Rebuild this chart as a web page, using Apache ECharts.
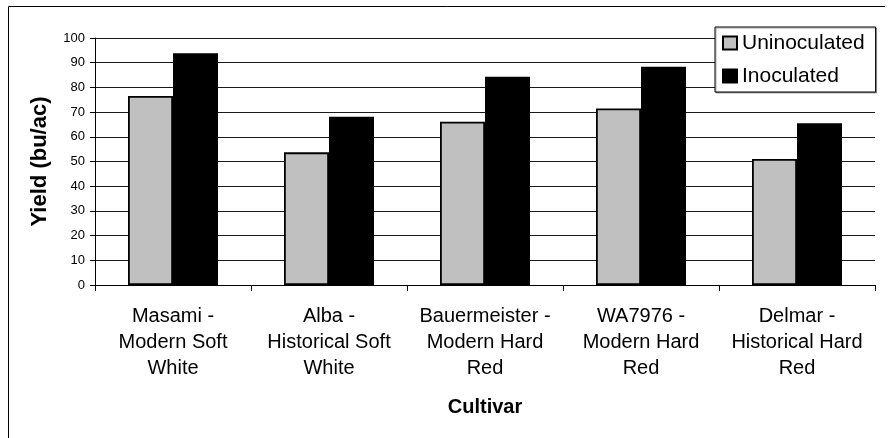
<!DOCTYPE html>
<html>
<head>
<meta charset="utf-8">
<script src="https://cdn.jsdelivr.net/npm/echarts@6/dist/echarts.min.js"></script>
<style>
  html, body { margin: 0; padding: 0; background: #fff; }
  #chart { width: 888px; height: 438px; }
</style>
</head>
<body>
<div id="chart"></div>
<script>
// Wheat cultivar yields, with and without inoculation
const categories = [
  'Masami -\nModern Soft\nWhite',
  'Alba -\nHistorical Soft\nWhite',
  'Bauermeister -\nModern Hard\nRed',
  'WA7976 -\nModern Hard\nRed',
  'Delmar -\nHistorical Hard\nRed'
];
const uninoculated = [76.5, 53.7, 66.1, 71.5, 51.0];
const inoculated = [93.8, 68.1, 84.3, 88.4, 65.5];
const seriesNames = ['Uninoculated', 'Inoculated'];
const yTicks = { min: 0, max: 100, step: 10 };

const FONT = 'Arial, "Liberation Sans", Helvetica, sans-serif';

const chart = echarts.init(document.getElementById('chart'), null, { renderer: 'canvas' });

chart.setOption({
  animation: false,
  backgroundColor: '#fff',
  textStyle: { fontFamily: FONT, color: '#000' },
  grid: { left: 95, right: 13, top: 38, bottom: 153, containLabel: false },
  legend: {
    orient: 'vertical',
    left: 715,
    top: 27,
    data: seriesNames,
    icon: 'rect',
    itemWidth: 14,
    itemHeight: 13,
    itemGap: 11,
    padding: [5, 11, 5, 7],
    backgroundColor: '#fff',
    borderColor: '#000',
    borderWidth: 1,
    shadowColor: 'rgba(0,0,0,0.35)',
    shadowBlur: 0,
    shadowOffsetX: 1,
    shadowOffsetY: 1,
    textStyle: { fontFamily: FONT, fontSize: 21, color: '#000', lineHeight: 22 },
    selectedMode: false
  },
  xAxis: {
    type: 'category',
    data: categories,
    name: 'Cultivar',
    nameLocation: 'middle',
    nameGap: 112,
    nameTextStyle: { fontFamily: FONT, fontSize: 20, fontWeight: 'bold', color: '#000' },
    axisLine: { show: true, lineStyle: { color: '#000', width: 1 } },
    axisTick: { show: true, alignWithLabel: false, length: 6, lineStyle: { color: '#000' } },
    axisLabel: {
      interval: 0,
      margin: 18,
      fontFamily: FONT,
      fontSize: 20,
      lineHeight: 26,
      color: '#000',
      align: 'center'
    },
    splitLine: { show: false }
  },
  yAxis: {
    type: 'value',
    min: yTicks.min,
    max: yTicks.max,
    interval: yTicks.step,
    name: 'Yield (bu/ac)',
    nameLocation: 'middle',
    nameGap: 44,
    nameTextStyle: { fontFamily: FONT, fontSize: 22, fontWeight: 'bold', color: '#000' },
    axisLine: { show: true, lineStyle: { color: '#000', width: 1 } },
    axisTick: { show: true, length: 5, lineStyle: { color: '#000' } },
    axisLabel: { margin: 10, fontFamily: FONT, fontSize: 13, color: '#000' },
    splitLine: { show: true, lineStyle: { color: '#1a1a1a', width: 1 } }
  },
  series: [
    {
      name: seriesNames[0],
      type: 'bar',
      data: uninoculated,
      barWidth: 45,
      barGap: '0%',
      itemStyle: { color: '#c0c0c0', borderColor: '#000', borderWidth: 1.8 }
    },
    {
      name: seriesNames[1],
      type: 'bar',
      data: inoculated,
      barWidth: 45,
      barGap: '0%',
      itemStyle: { color: '#000', borderColor: '#000', borderWidth: 1.8 }
    }
  ],
  graphic: [
    // outer frame edges
    { type: 'line', silent: true, shape: { x1: 8.5, y1: 6.5, x2: 8.5, y2: 438 }, style: { stroke: '#000', lineWidth: 1 } },
    { type: 'line', silent: true, shape: { x1: 8.5, y1: 6.5, x2: 885, y2: 6.5 }, style: { stroke: '#000', lineWidth: 1 } }
  ]
});
</script>
</body>
</html>
